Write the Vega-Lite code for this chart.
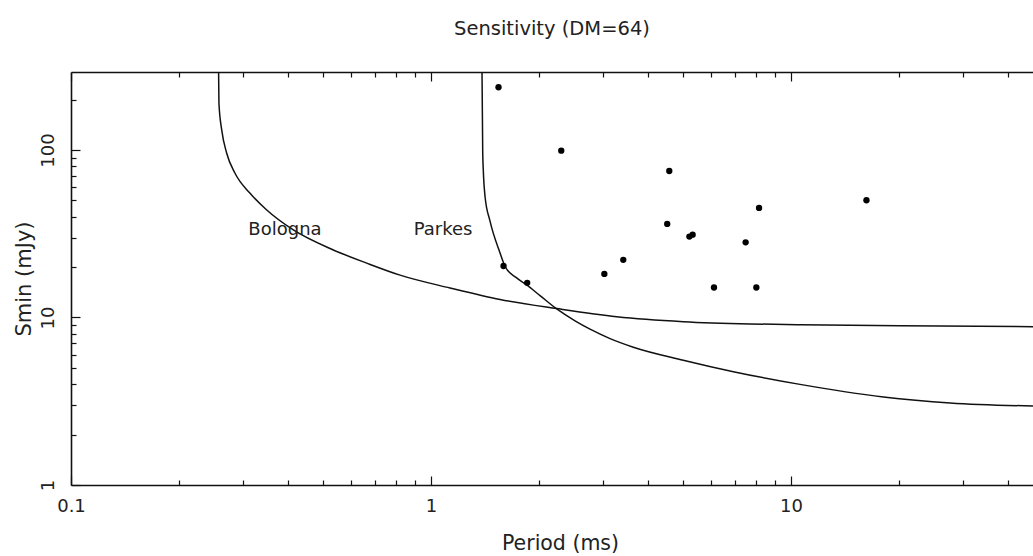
{
  "$schema": "https://vega.github.io/schema/vega-lite/v6.json",
  "width": 962,
  "height": 413,
  "autosize": {"type": "none"},
  "padding": {"left": 71, "top": 72, "right": 0, "bottom": 71},
  "background": "white",
  "title": {"text": "Sensitivity (DM=64)", "font": "DejaVu Sans", "fontSize": 19.5, "fontWeight": "normal", "color": "#222", "anchor": "middle", "frame": "group", "offset": 32},
  "config": {"view": {"stroke": null}, "axis": {"grid": false}},
  "datasets": {
    "curves": [
      {"site": "Bologna", "period": 0.2563, "smin": 500},
      {"site": "Bologna", "period": 0.2576, "smin": 190},
      {"site": "Bologna", "period": 0.2622, "smin": 131.7},
      {"site": "Bologna", "period": 0.2707, "smin": 95.6},
      {"site": "Bologna", "period": 0.2855, "smin": 72.6},
      {"site": "Bologna", "period": 0.3143, "smin": 55.1},
      {"site": "Bologna", "period": 0.3497, "smin": 43.8},
      {"site": "Bologna", "period": 0.4146, "smin": 33.3},
      {"site": "Bologna", "period": 0.5353, "smin": 25.3},
      {"site": "Bologna", "period": 0.663, "smin": 21.1},
      {"site": "Bologna", "period": 0.8202, "smin": 17.9},
      {"site": "Bologna", "period": 1.129, "smin": 15.0},
      {"site": "Bologna", "period": 1.555, "smin": 12.8},
      {"site": "Bologna", "period": 2.235, "smin": 11.3},
      {"site": "Bologna", "period": 3.28, "smin": 10.1},
      {"site": "Bologna", "period": 5.02, "smin": 9.44},
      {"site": "Bologna", "period": 7.69, "smin": 9.15},
      {"site": "Bologna", "period": 10.6, "smin": 9.06},
      {"site": "Bologna", "period": 20.1, "smin": 8.93},
      {"site": "Bologna", "period": 47.0, "smin": 8.81},
      {"site": "Parkes", "period": 1.3825, "smin": 500},
      {"site": "Parkes", "period": 1.392, "smin": 95.96},
      {"site": "Parkes", "period": 1.397, "smin": 75.9},
      {"site": "Parkes", "period": 1.413, "smin": 52.6},
      {"site": "Parkes", "period": 1.458, "smin": 37.7},
      {"site": "Parkes", "period": 1.555, "smin": 24.28},
      {"site": "Parkes", "period": 1.606, "smin": 20.16},
      {"site": "Parkes", "period": 1.722, "smin": 17.34},
      {"site": "Parkes", "period": 1.848, "smin": 15.59},
      {"site": "Parkes", "period": 2.008, "smin": 13.51},
      {"site": "Parkes", "period": 2.235, "smin": 11.24},
      {"site": "Parkes", "period": 2.512, "smin": 9.543},
      {"site": "Parkes", "period": 2.765, "smin": 8.514},
      {"site": "Parkes", "period": 3.143, "smin": 7.482},
      {"site": "Parkes", "period": 3.647, "smin": 6.648},
      {"site": "Parkes", "period": 5.02, "smin": 5.562},
      {"site": "Parkes", "period": 6.917, "smin": 4.748},
      {"site": "Parkes", "period": 10.59, "smin": 3.987},
      {"site": "Parkes", "period": 18.05, "smin": 3.357},
      {"site": "Parkes", "period": 27.66, "smin": 3.091},
      {"site": "Parkes", "period": 47.0, "smin": 2.96}
    ],
    "pulsars": [
      {"period": 1.54, "smin": 236.8},
      {"period": 2.30, "smin": 99.0},
      {"period": 4.59, "smin": 74.9},
      {"period": 8.15, "smin": 45.1},
      {"period": 4.53, "smin": 36.2},
      {"period": 5.22, "smin": 30.4},
      {"period": 5.33, "smin": 31.2},
      {"period": 7.48, "smin": 28.1},
      {"period": 3.42, "smin": 22.1},
      {"period": 3.03, "smin": 18.2},
      {"period": 1.59, "smin": 20.3},
      {"period": 1.85, "smin": 16.1},
      {"period": 6.11, "smin": 15.1},
      {"period": 8.01, "smin": 15.1},
      {"period": 16.2, "smin": 50.1}
    ],
    "labels": [
      {"label": "Bologna", "period": 0.393, "smin": 33.3},
      {"label": "Parkes", "period": 1.08, "smin": 33.3}
    ]
  },
  "layer": [
    {
      "data": {"name": "curves"},
      "mark": {"type": "line", "clip": true, "color": "#111", "strokeWidth": 1.5, "interpolate": "monotone"},
      "encoding": {
        "x": {
          "field": "period", "type": "quantitative",
          "scale": {"type": "log", "domain": [0.1, 47], "nice": false},
          "axis": {
            "orient": "bottom",
            "values": [0.1, 1, 10],
            "labelExpr": "toString(datum.value)",
            "ticks": false, "tickSize": 0,
            "domainColor": "#111", "domainWidth": 1.6,
            "labelFont": "DejaVu Sans", "labelFontSize": 18, "labelColor": "#222",
            "labelPadding": 12, "labelFlush": false, "labelOverlap": false,
            "title": "Period (ms)", "titleFont": "DejaVu Sans", "titleFontSize": 20.5, "titleFontWeight": "normal", "titleColor": "#222", "titlePadding": 18, "titleX": 489
          }
        },
        "y": {
          "field": "smin", "type": "quantitative",
          "scale": {"type": "log", "domain": [1, 292], "nice": false},
          "axis": {
            "orient": "left",
            "values": [1, 10, 100],
            "labelExpr": "toString(datum.value)",
            "ticks": false, "tickSize": 0,
            "domainColor": "#111", "domainWidth": 1.6,
            "labelFont": "DejaVu Sans", "labelFontSize": 18, "labelColor": "#222", "labelAngle": -90,
            "labelPadding": 14, "labelFlush": false, "labelOverlap": false,
            "title": "Smin (mJy)", "titleFont": "DejaVu Sans", "titleFontSize": 21, "titleFontWeight": "normal", "titleColor": "#222", "titlePadding": 5
          }
        },
        "detail": {"field": "site"}
      }
    },
    {
      "data": {"name": "pulsars"},
      "mark": {"type": "circle", "size": 40, "color": "#000", "opacity": 1},
      "encoding": {
        "x": {
          "field": "period", "type": "quantitative",
          "axis": {
            "orient": "top", "offset": -413,
            "values": [0.1, 0.2, 0.3, 0.4, 0.5, 0.6, 0.7, 0.8, 0.9, 1, 2, 3, 4, 5, 6, 7, 8, 9, 10, 20, 30, 40],
            "labels": false, "domain": false,
            "ticks": true,
            "tickSize": {"condition": {"test": "abs(log(datum.value)/LN10 - round(log(datum.value)/LN10)) < 0.001", "value": 9}, "value": 5},
            "tickColor": "#111", "tickWidth": 1.2,
            "title": null
          }
        },
        "y": {
          "field": "smin", "type": "quantitative",
          "axis": {
            "orient": "right", "offset": -962,
            "values": [1, 2, 3, 4, 5, 6, 7, 8, 9, 10, 20, 30, 40, 50, 60, 70, 80, 90, 100, 200],
            "labels": false, "domain": false,
            "ticks": true,
            "tickSize": {"condition": {"test": "abs(log(datum.value)/LN10 - round(log(datum.value)/LN10)) < 0.001", "value": 9}, "value": 5},
            "tickColor": "#111", "tickWidth": 1.2,
            "title": null
          }
        }
      }
    },
    {
      "data": {"name": "labels"},
      "mark": {"type": "text", "font": "DejaVu Sans", "fontSize": 18, "color": "#222"},
      "encoding": {
        "x": {
          "field": "period", "type": "quantitative",
          "axis": {
            "orient": "bottom", "offset": -413,
            "values": [0.1, 0.2, 0.3, 0.4, 0.5, 0.6, 0.7, 0.8, 0.9, 1, 2, 3, 4, 5, 6, 7, 8, 9, 10, 20, 30, 40],
            "labels": false, "domain": true,
            "domainColor": "#111", "domainWidth": 1.6,
            "ticks": true,
            "tickSize": {"condition": {"test": "abs(log(datum.value)/LN10 - round(log(datum.value)/LN10)) < 0.001", "value": 9}, "value": 5},
            "tickColor": "#111", "tickWidth": 1.2,
            "title": null
          }
        },
        "y": {"field": "smin", "type": "quantitative", "axis": null},
        "text": {"field": "label"}
      }
    }
  ],
  "resolve": {"axis": {"x": "independent", "y": "independent"}}
}
